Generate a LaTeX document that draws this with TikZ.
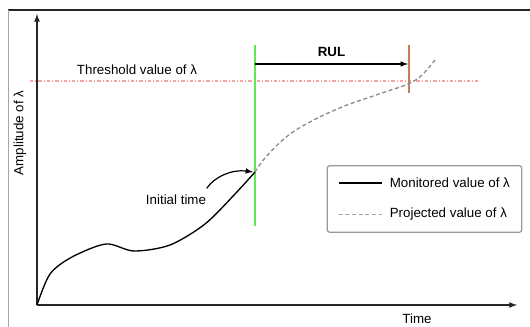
\documentclass[tikz,border=0pt]{standalone}
\usepackage{fontspec}
\setmainfont{Liberation Sans}
\definecolor{THRESH}{HTML}{F7A5A5}
\definecolor{START}{HTML}{5FEA4F}
\definecolor{STOP}{HTML}{C97A5A}
\usetikzlibrary{arrows,positioning,calc}

\begin{document}
\begin{tikzpicture}
[x=0.75pt, y=-0.75pt, font=\fontsize{10}{12}\selectfont,
axis/.style={line width=1pt, black!85, -latex},
curve/.style={line width=1pt, black},
proj/.style={line width=1pt, black!45, dash pattern=on 3pt off 2pt},
marker/.style={line width=1.3pt},
legbox/.style={draw=black!40, line width=0.9pt, rounded corners=2pt,
minimum width=146pt, minimum height=50pt}]
\useasboundingbox (0,0) rectangle (530,327);
% frame
\draw[black!85, line width=1.2pt] (8,10) -- (530,10);
\draw[black!35, line width=0.5pt] (8,10) -- (8,327);
% axes
\coordinate (O) at (37,305);
\coordinate (Ytop) at (37,14);
\coordinate (Xend) at (517,305);
\draw[axis] (O) -- (Ytop);
\draw[axis] (O) -- (Xend);
\node (time) at (417,319) {Time};
\node[rotate=90] (amp) at (20,133) {Amplitude of λ};
% threshold
\coordinate (thL) at (30,81);
\coordinate (thR) at (478,81);
\draw[THRESH, line width=0.8pt, dash pattern=on 2.5pt off 1.5pt on 0.8pt off 1.5pt] (thL) -- (thR);
\node (thlabel) at (137,70) {Threshold value of λ};
% markers
\coordinate (g1) at (255,45);
\coordinate (g2) at (255,226);
\coordinate (r1) at (409,45);
\coordinate (r2) at (409,93);
\draw[marker,START] (g1) -- (g2);
\draw[marker,STOP] (r1) -- (r2);
\draw[line width=0.9pt, -latex] ($(g1)+(0,19)$) -- ($(r1)+(-1,19)$)
node[midway,above=2pt,font=\fontsize{10}{12}\selectfont\bfseries] (rul) {RUL};
% curves
\coordinate (init) at (255,172);
\draw[curve] plot[smooth] coordinates {(O) (50,274) (72,257) (106,244)
(134,251) (170,245) (205,224) (235,194) (init)};
\draw[proj] plot[smooth, tension=0.6] coordinates {(init) (265,158) (285,138)
(308,123) (342,107) (382,93) (408,84) (422,75) (435,60)};
\node (itime) at (176,200) {Initial time};
\draw[line width=0.9pt, -latex] ($(itime.north east)+(-4,-2)$) .. controls (214,177) and (232,169) .. ($(init)+(-2,0)$);
% legend
\node[legbox] (legend) at (424.5,199) {};
\draw[curve] ($(legend.north west)+(12,18)$) coordinate (m1) -- ++(43,0) coordinate (m2);
\draw[proj, line width=0.8pt, black!35] ($(legend.north west)+(12,49)$) coordinate (p1) -- ++(43,0) coordinate (p2);
\node[right=5pt of m2, inner sep=1pt] (mon) {Monitored value of λ};
\node[right=5pt of p2, inner sep=1pt] (pro) {Projected value of λ};
\end{tikzpicture}
\end{document}
